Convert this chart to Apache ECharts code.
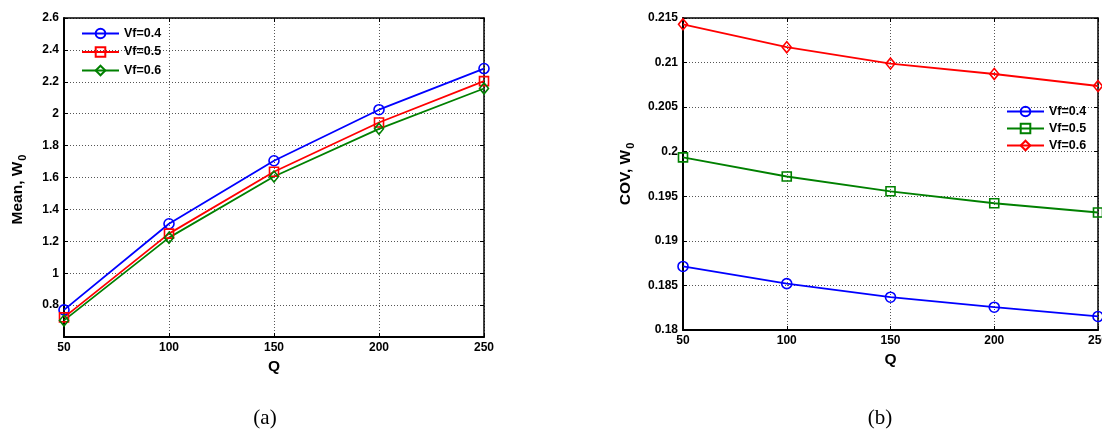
<!DOCTYPE html>
<html>
<head>
<meta charset="utf-8">
<script src="https://cdn.jsdelivr.net/npm/echarts@6/dist/echarts.min.js"></script>
<style>
  html, body { margin: 0; padding: 0; background: #fff; }
  #main { width: 1102px; height: 434px; }
</style>
</head>
<body>
<div id="main"></div>
<script>
// 数据
var qValues = [50, 100, 150, 200, 250];

// (a) Mean, W0
var meanVf04 = [0.77, 1.31, 1.705, 2.025, 2.283];
var meanVf05 = [0.723, 1.248, 1.636, 1.945, 2.204];
var meanVf06 = [0.704, 1.223, 1.606, 1.905, 2.158];

// (b) COV, W0
var covVf04 = [0.18713, 0.18520, 0.18368, 0.18256, 0.18152];
var covVf05 = [0.19936, 0.19722, 0.19556, 0.19422, 0.19318];
var covVf06 = [0.21429, 0.21173, 0.20989, 0.20872, 0.20737];

var legendNames = ['Vf=0.4', 'Vf=0.5', 'Vf=0.6'];

var BLUE = '#0000ff', RED = '#ff0000', GREEN = '#008000';
var FONT = 'Arial, "Liberation Sans", sans-serif';

function pairs(ys) {
  return qValues.map(function (q, i) { return [q, ys[i]] });
}

var chart = echarts.init(document.getElementById('main'));

var labelStyle = { fontFamily: FONT, fontWeight: 'bold', fontSize: 12, color: '#000' };
var gridLine = { show: true, lineStyle: { color: '#555', type: [1, 2], width: 1 } };

// main axis (bottom / left)
function xAxisMain(gridIndex) {
  return {
    type: 'value', gridIndex: gridIndex, min: 50, max: 250, interval: 50,
    name: 'Q', nameLocation: 'middle', nameGap: 22,
    nameTextStyle: { fontFamily: FONT, fontWeight: 'bold', fontSize: 15.5, color: '#000' },
    axisLine: { onZero: false, lineStyle: { color: '#000', width: 2 } },
    axisTick: { inside: true, length: 4, lineStyle: { color: '#000' } },
    axisLabel: Object.assign({ margin: 5 }, labelStyle),
    splitLine: gridLine
  }
}
function yAxisMain(gridIndex, min, max, interval, title, gap, shift) {
  return {
    type: 'value', gridIndex: gridIndex, min: min, max: max, interval: interval,
    name: title, nameLocation: 'middle', nameGap: gap,
    nameTextStyle: {
      fontFamily: FONT, fontWeight: 'bold', fontSize: 15.5, color: '#000',
      padding: [0, shift, 0, 0],
      rich: {
        b: { fontFamily: FONT, fontWeight: 'bold', fontSize: 15.5, color: '#000' },
        sub: { fontFamily: FONT, fontWeight: 'bold', fontSize: 11, color: '#000', padding: [10, 0, 0, 1] }
      }
    },
    axisLine: { onZero: false, lineStyle: { color: '#000', width: 2 } },
    axisTick: { inside: true, length: 4, lineStyle: { color: '#000' } },
    axisLabel: Object.assign({ margin: 5, showMinLabel: gridIndex == 1 }, labelStyle),
    splitLine: gridLine
  }
}
// opposite side, only ticks + box line
function xAxisTop(gridIndex) {
  return {
    type: 'value', gridIndex: gridIndex, position: 'top', min: 50, max: 250, interval: 50,
    axisLine: { onZero: false, lineStyle: { color: '#000', width: 1.5 } },
    axisTick: { inside: true, length: 4, lineStyle: { color: '#000' } },
    axisLabel: { show: false }, splitLine: { show: false }
  }
}
function yAxisRight(gridIndex, min, max, interval) {
  return {
    type: 'value', gridIndex: gridIndex, position: 'right', min: min, max: max, interval: interval,
    axisLine: { onZero: false, lineStyle: { color: '#000', width: 1.5 } },
    axisTick: { inside: true, length: 4, lineStyle: { color: '#000' } },
    axisLabel: { show: false }, splitLine: { show: false }
  }
}

function lineSeries(name, color, symbol, size, xi, yi, ys) {
  return {
    name: name, type: 'line', xAxisIndex: xi, yAxisIndex: yi,
    data: pairs(ys), symbol: symbol, symbolSize: size, clip: false,
    color: color,
    lineStyle: { color: color, width: 1.8 },
    itemStyle: { color: 'rgba(0,0,0,0)', borderColor: color, borderWidth: 1.6 },
    emphasis: { disabled: true },
    z: 3
  }
}

var legendText = { fontFamily: FONT, fontWeight: 'bold', fontSize: 12.5, color: '#000' };

var option = {
  animation: false,
  backgroundColor: '#fff',
  grid: [
    { left: 64, top: 18, width: 420, height: 319, containLabel: false, outerBoundsMode: 'none' },
    { left: 683, top: 18, width: 415, height: 312, containLabel: false, outerBoundsMode: 'none' }
  ],
  xAxis: [xAxisMain(0), xAxisMain(1), xAxisTop(0), xAxisTop(1)],
  yAxis: [
    yAxisMain(0, 0.6, 2.6, 0.2, '{b|Mean, W}{sub|0}', 36, 24),
    yAxisMain(1, 0.18, 0.215, 0.005, '{b|COV, W}{sub|0}', 47, 0),
    yAxisRight(0, 0.6, 2.6, 0.2),
    yAxisRight(1, 0.18, 0.215, 0.005)
  ],
  legend: [
    {
      left: 81, top: 27, padding: 0, orient: 'vertical', selectedMode: false,
      data: legendNames, itemWidth: 37, itemHeight: 12, itemGap: 5.5,
      textStyle: legendText
    },
    {
      left: 1006, top: 105, padding: 0, orient: 'vertical', selectedMode: false,
      data: legendNames.map(function (n) { return n + ' (b)' }),
      formatter: function (n) { return n.replace(' (b)', '') },
      itemWidth: 37, itemHeight: 12, itemGap: 4,
      textStyle: legendText
    }
  ],
  series: [
    lineSeries('Vf=0.4', BLUE, 'circle', 10, 0, 0, meanVf04),
    lineSeries('Vf=0.5', RED, 'rect', 9, 0, 0, meanVf05),
    lineSeries('Vf=0.6', GREEN, 'diamond', [9, 11], 0, 0, meanVf06),
    lineSeries('Vf=0.4 (b)', BLUE, 'circle', 10, 1, 1, covVf04),
    lineSeries('Vf=0.5 (b)', GREEN, 'rect', 9, 1, 1, covVf05),
    lineSeries('Vf=0.6 (b)', RED, 'diamond', [9, 11], 1, 1, covVf06)
  ],
  graphic: [
    { type: 'text', x: 265, y: 418, style: { text: '(a)', align: 'center', verticalAlign: 'middle', font: '21px "Liberation Serif", "Times New Roman", serif', fill: '#000' } },
    { type: 'text', x: 880, y: 418, style: { text: '(b)', align: 'center', verticalAlign: 'middle', font: '21px "Liberation Serif", "Times New Roman", serif', fill: '#000' } }
  ]
};

chart.setOption(option);
</script>
</body>
</html>
